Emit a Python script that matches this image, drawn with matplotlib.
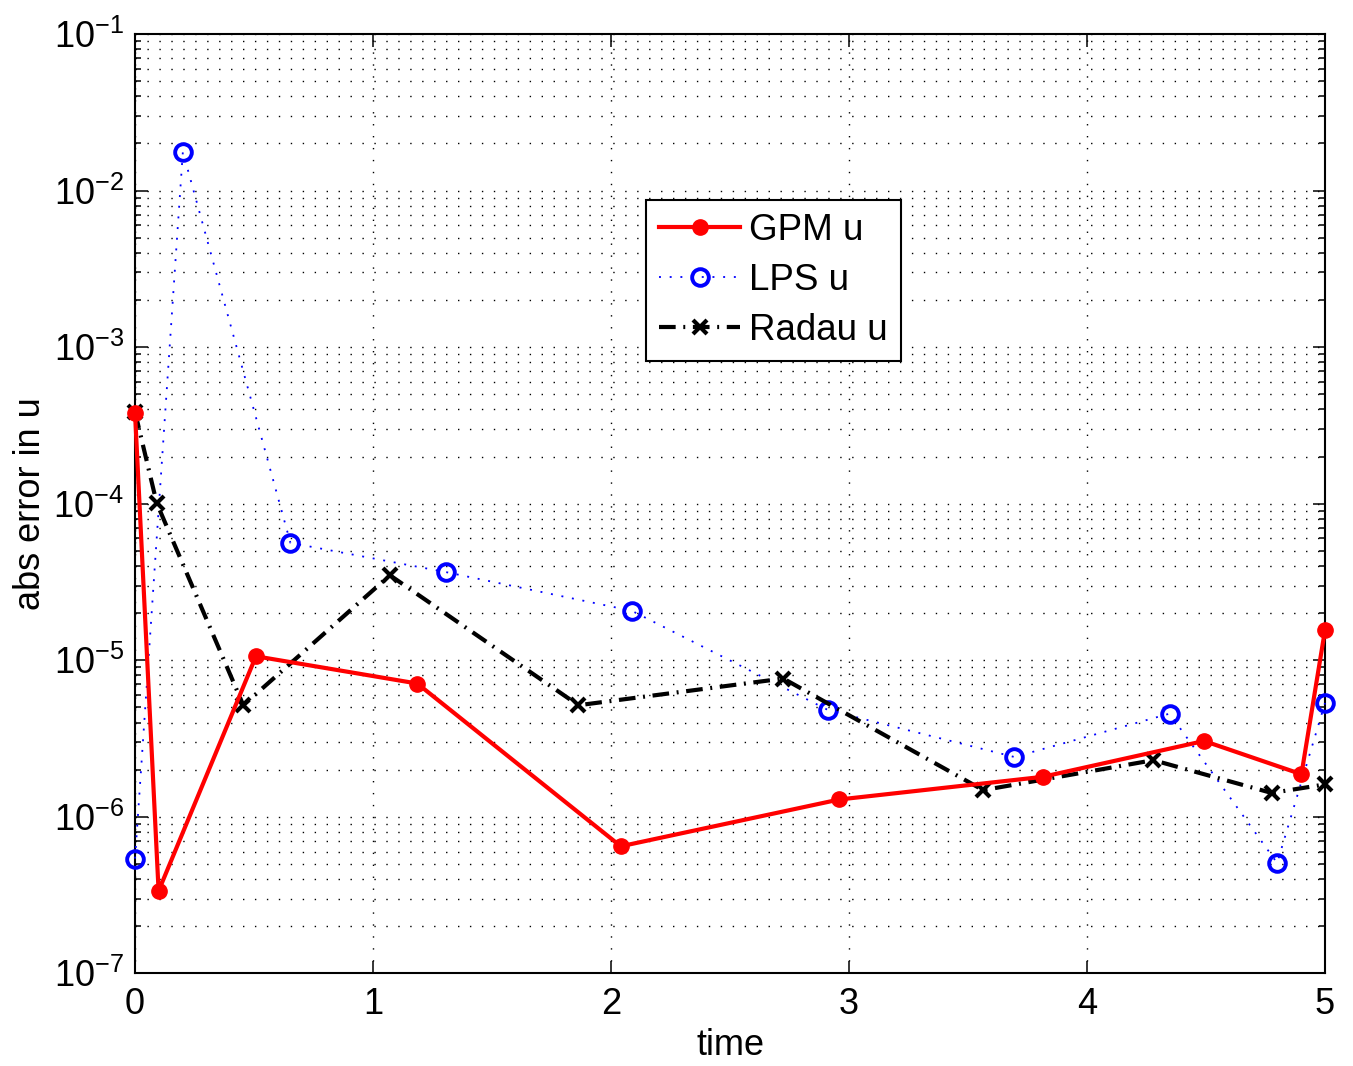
import matplotlib
matplotlib.use("Agg")
import matplotlib.pyplot as plt
from matplotlib.ticker import FixedLocator, LogLocator, NullFormatter

# values (time, abs error)
gpm_t = [0.0, 0.099, 0.508, 1.186, 2.041, 2.959, 3.814, 4.492, 4.901, 5.0]
gpm_err = [3.79e-4, 3.36e-7, 1.06e-5, 7.10e-6, 6.48e-7, 1.29e-6, 1.80e-6, 3.05e-6, 1.87e-6, 1.56e-5]

lps_t = [0.0, 0.201, 0.653, 1.305, 2.087, 2.913, 3.695, 4.347, 4.799, 5.0]
lps_err = [5.41e-7, 1.77e-2, 5.62e-5, 3.66e-5, 2.07e-5, 4.80e-6, 2.41e-6, 4.56e-6, 5.07e-7, 5.33e-6]

radau_t = [0.0, 0.091, 0.455, 1.071, 1.863, 2.724, 3.564, 4.279, 4.776, 5.0]
radau_err = [3.86e-4, 1.01e-4, 5.16e-6, 3.49e-5, 5.16e-6, 7.64e-6, 1.48e-6, 2.30e-6, 1.42e-6, 1.61e-6]

x_ticks = [0, 1, 2, 3, 4, 5]
y_ticks = [1e-7, 1e-6, 1e-5, 1e-4, 1e-3, 1e-2, 1e-1]
labels = ["GPM u", "LPS u", "Radau u"]

plt.rcParams.update(
    {
        "font.family": ["Liberation Sans", "DejaVu Sans"],
        "mathtext.fontset": "custom",
        "mathtext.rm": "Liberation Sans",
        "mathtext.it": "Liberation Sans:italic",
        "mathtext.bf": "Liberation Sans:bold",
        "font.size": 26,
        "lines.scale_dashes": False,
        "axes.linewidth": 1.5,
        "xtick.direction": "in",
        "ytick.direction": "in",
        "xtick.top": True,
        "ytick.right": True,
        "xtick.major.size": 9,
        "ytick.major.size": 9,
        "ytick.minor.size": 4.5,
        "xtick.major.width": 1.1,
        "ytick.major.width": 1.1,
        "ytick.minor.width": 1.1,
        "xtick.major.pad": 10,
        "ytick.major.pad": 8,
    }
)

fig = plt.figure(figsize=(13.53, 10.66), dpi=100)
ax = fig.add_axes([0.0998, 0.0869, 0.8795, 0.8812])

ax.plot(gpm_t, gpm_err, color="red", linestyle="-", linewidth=3, marker="o",
        markersize=11, markeredgewidth=1, label=labels[0], clip_on=False, zorder=5)
ax.plot(lps_t, lps_err, color="blue", linestyle=(0, (1.4, 6.3)), linewidth=1.3,
        marker="o", markersize=12, markeredgewidth=2.8, markerfacecolor="none",
        label=labels[1], clip_on=False, zorder=4)
ax.plot(radau_t, radau_err, color="black", linestyle=(0, (12, 5.5, 1.4, 5.5)), linewidth=3,
        marker="x", markersize=10, markeredgewidth=3, label=labels[2], clip_on=False, zorder=4)

ax.set_yscale("log")
ax.set_xlim(0, 5)
ax.set_ylim(1e-7, 1e-1)
ax.set_xticks(x_ticks)
ax.yaxis.set_major_locator(FixedLocator(y_ticks))
ax.yaxis.set_minor_locator(LogLocator(base=10, subs=range(2, 10), numticks=20))
ax.yaxis.set_minor_formatter(NullFormatter())

grid_style = dict(color="black", linestyle=(0, (1.0, 7.6)), linewidth=1.0)
ax.grid(axis="x", which="major", **grid_style)
ax.grid(axis="y", which="both", **grid_style)
ax.set_axisbelow(True)

ax.set_xlabel("time", labelpad=4)
ax.set_ylabel("abs error in u", labelpad=4)

leg = ax.legend(loc="upper left", bbox_to_anchor=(0.4294, 0.8233), borderaxespad=0,
                fancybox=False, framealpha=1, edgecolor="black", handlelength=2.2,
                handletextpad=0.25, labelspacing=0.4, borderpad=0.36, fontsize=26.5)
leg.get_frame().set_linewidth(1.5)

fig.savefig("out.png", dpi=100)
